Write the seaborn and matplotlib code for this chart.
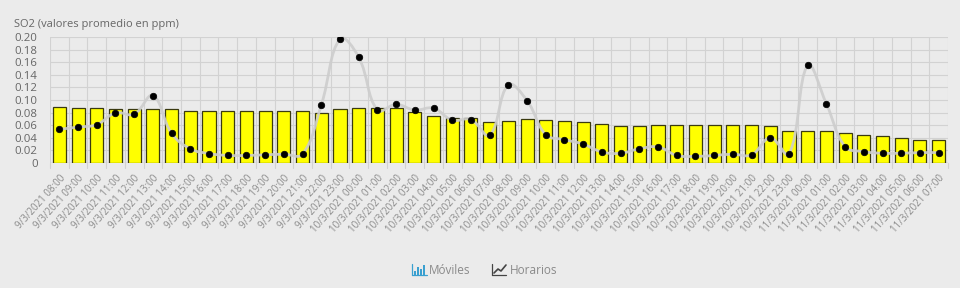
import matplotlib
matplotlib.use("Agg")
import matplotlib.pyplot as plt
import matplotlib.patches as mpatches
from matplotlib.path import Path
import seaborn as sns
import pandas as pd
import numpy as np

labels = [
    "9/3/2021 08:00", "9/3/2021 09:00", "9/3/2021 10:00", "9/3/2021 11:00",
    "9/3/2021 12:00", "9/3/2021 13:00", "9/3/2021 14:00", "9/3/2021 15:00",
    "9/3/2021 16:00", "9/3/2021 17:00", "9/3/2021 18:00", "9/3/2021 19:00",
    "9/3/2021 20:00", "9/3/2021 21:00", "9/3/2021 22:00", "9/3/2021 23:00",
    "10/3/2021 00:00", "10/3/2021 01:00", "10/3/2021 02:00", "10/3/2021 03:00",
    "10/3/2021 04:00", "10/3/2021 05:00", "10/3/2021 06:00", "10/3/2021 07:00",
    "10/3/2021 08:00", "10/3/2021 09:00", "10/3/2021 10:00", "10/3/2021 11:00",
    "10/3/2021 12:00", "10/3/2021 13:00", "10/3/2021 14:00", "10/3/2021 15:00",
    "10/3/2021 16:00", "10/3/2021 17:00", "10/3/2021 18:00", "10/3/2021 19:00",
    "10/3/2021 20:00", "10/3/2021 21:00", "10/3/2021 22:00", "10/3/2021 23:00",
    "11/3/2021 00:00", "11/3/2021 01:00", "11/3/2021 02:00", "11/3/2021 03:00",
    "11/3/2021 04:00", "11/3/2021 05:00", "11/3/2021 06:00", "11/3/2021 07:00",
]

moviles = [
    0.089, 0.0875, 0.0875, 0.0865, 0.0865, 0.0865, 0.085, 0.083,
    0.082, 0.082, 0.082, 0.082, 0.082, 0.082, 0.0795, 0.0855,
    0.0875, 0.0875, 0.0875, 0.081, 0.075, 0.0715, 0.0715, 0.065,
    0.067, 0.070, 0.069, 0.067, 0.065, 0.0615, 0.0595, 0.0595,
    0.060, 0.060, 0.060, 0.060, 0.060, 0.060, 0.0585, 0.0505,
    0.0505, 0.0505, 0.047, 0.045, 0.0425, 0.040, 0.0365, 0.036,
]

horarios = [
    0.0535, 0.057, 0.061, 0.0795, 0.0775, 0.107, 0.047, 0.0225,
    0.015, 0.012, 0.012, 0.013, 0.014, 0.014, 0.092, 0.197,
    0.168, 0.084, 0.093, 0.084, 0.087, 0.068, 0.069, 0.044,
    0.124, 0.099, 0.045, 0.037, 0.030, 0.0175, 0.0155, 0.0225,
    0.0255, 0.012, 0.0105, 0.012, 0.014, 0.013, 0.040, 0.014,
    0.155, 0.094, 0.026, 0.018, 0.0155, 0.0155, 0.0165, 0.0165,
]

yticks = [0, 0.02, 0.04, 0.06, 0.08, 0.10, 0.12, 0.14, 0.16, 0.18, 0.20]
title = "SO2 (valores promedio en ppm)"
legend_labels = ["Móviles", "Horarios"]

BG = "#ebebeb"
GRID = "#d2d2d2"
TXT = "#666666"
XTXT = "#8a8a8a"

sns.set_style("white")
plt.rcParams["font.family"] = ["Open Sans", "DejaVu Sans"]

df = pd.DataFrame({"label": labels, "moviles": moviles, "horarios": horarios})

fig = plt.figure(figsize=(9.6, 2.88), dpi=100, facecolor=BG)
ax = fig.add_axes([50 / 960, 1 - 163 / 288, 898 / 960, 126 / 288])
ax.set_facecolor(BG)

sns.barplot(data=df, x="label", y="moviles", order=labels, color="#ffff00",
            width=0.7, edgecolor="#3a3a10", linewidth=0.9, saturation=1,
            ax=ax, zorder=2)

n = len(labels)
xs = np.arange(n)

# smooth line (Chart.js-like tension) drawn in data coordinates
ax.set_xlim(-0.5, n - 0.5)
ax.set_ylim(0, 0.2)
fig.canvas.draw()
pts = ax.transData.transform(np.column_stack([xs, horarios]))
t = 0.4
cps_prev = []
cps_next = []
for i in range(n):
    p1 = pts[i]
    p0 = pts[i - 1] if i > 0 else p1
    p2 = pts[i + 1] if i < n - 1 else p1
    d01 = np.hypot(*(p1 - p0))
    d12 = np.hypot(*(p2 - p1))
    tot = d01 + d12
    s01 = d01 / tot if tot else 0
    s12 = d12 / tot if tot else 0
    cps_prev.append(p1 - t * s01 * (p2 - p0))
    cps_next.append(p1 + t * s12 * (p2 - p0))
verts = [pts[0]]
codes = [Path.MOVETO]
for i in range(n - 1):
    verts += [cps_next[i], cps_prev[i + 1], pts[i + 1]]
    codes += [Path.CURVE4] * 3
inv = ax.transData.inverted()
verts_data = inv.transform(np.array(verts))
path = Path(verts_data, codes)
ax.add_patch(mpatches.PathPatch(path, facecolor="none", edgecolor="#cdcdcd",
                                lw=2.0, alpha=0.9, zorder=3,
                                transform=ax.transData, clip_on=False))

sns.scatterplot(x=xs, y=horarios, color="black", s=22, edgecolor="black",
                linewidth=0.5, ax=ax, zorder=4, legend=False)

ax.set_xlim(-0.5, n - 0.5)
ax.set_ylim(0, 0.2)
ax.set_yticks(yticks)
ax.set_yticklabels(["0" if v == 0 else f"{v:.2f}" for v in yticks])
ax.set_xticks(xs)
ax.set_xticklabels(labels, rotation=48, ha="right", rotation_mode="anchor")
ax.tick_params(axis="x", length=0, pad=7, labelsize=7.0, labelcolor=XTXT)
ax.tick_params(axis="y", length=6, color=GRID, pad=3, labelsize=8.2, labelcolor=TXT)
ax.set_xlabel("")
ax.set_ylabel("")

# grid: horizontal at ticks, vertical at category boundaries
for v in yticks:
    ax.axhline(v, color=GRID, lw=0.8, zorder=0)
for b in np.arange(-0.5, n, 1.0):
    ax.axvline(b, color=GRID, lw=0.8, zorder=0)
    ax.plot([b, b], [0, -0.008], color=GRID, lw=0.8, clip_on=False, zorder=0)
for s in ax.spines.values():
    s.set_visible(False)
ax.axhline(0, color="#c8c8c8", lw=1.0, zorder=1)

fig.text(14 / 960, 1 - 25 / 288, title, fontsize=8.0, color=TXT, va="center", ha="left")

# legend
ly = 1 - 270 / 288
ix = 412 / 960
iw = 1 / 960
ih = 1 / 288
for k, h in enumerate([4, 8, 6, 10]):
    fig.patches.append(mpatches.Rectangle((ix + (2 + k * 3) * iw, ly - 5 * ih), 2 * iw, h * ih,
                                          transform=fig.transFigure, color="#3aa0d0", lw=0))
fig.add_artist(plt.Line2D([ix, ix + 15 * iw], [ly - 5 * ih] * 2, transform=fig.transFigure,
                          color="#3aa0d0", lw=0.9))
fig.add_artist(plt.Line2D([ix, ix], [ly - 5 * ih, ly + 6 * ih], transform=fig.transFigure,
                          color="#3aa0d0", lw=0.9))
fig.text(429 / 960, ly, legend_labels[0], fontsize=8.5, color=XTXT, va="center", ha="left")
jx = 492 / 960
fig.add_artist(plt.Line2D([jx, jx + 14 * iw], [ly - 5 * ih] * 2, transform=fig.transFigure,
                          color="#444444", lw=0.9))
fig.add_artist(plt.Line2D([jx, jx], [ly - 5 * ih, ly + 6 * ih], transform=fig.transFigure,
                          color="#444444", lw=0.9))
fig.add_artist(plt.Line2D([jx + 2 * iw, jx + 6 * iw, jx + 9 * iw, jx + 14 * iw],
                          [ly - 3 * ih, ly + 1 * ih, ly - 1 * ih, ly + 5 * ih],
                          transform=fig.transFigure, color="#444444", lw=1.2))
fig.text(510 / 960, ly, legend_labels[1], fontsize=8.5, color=XTXT, va="center", ha="left")

fig.savefig("out.png", dpi=100, facecolor=BG)
